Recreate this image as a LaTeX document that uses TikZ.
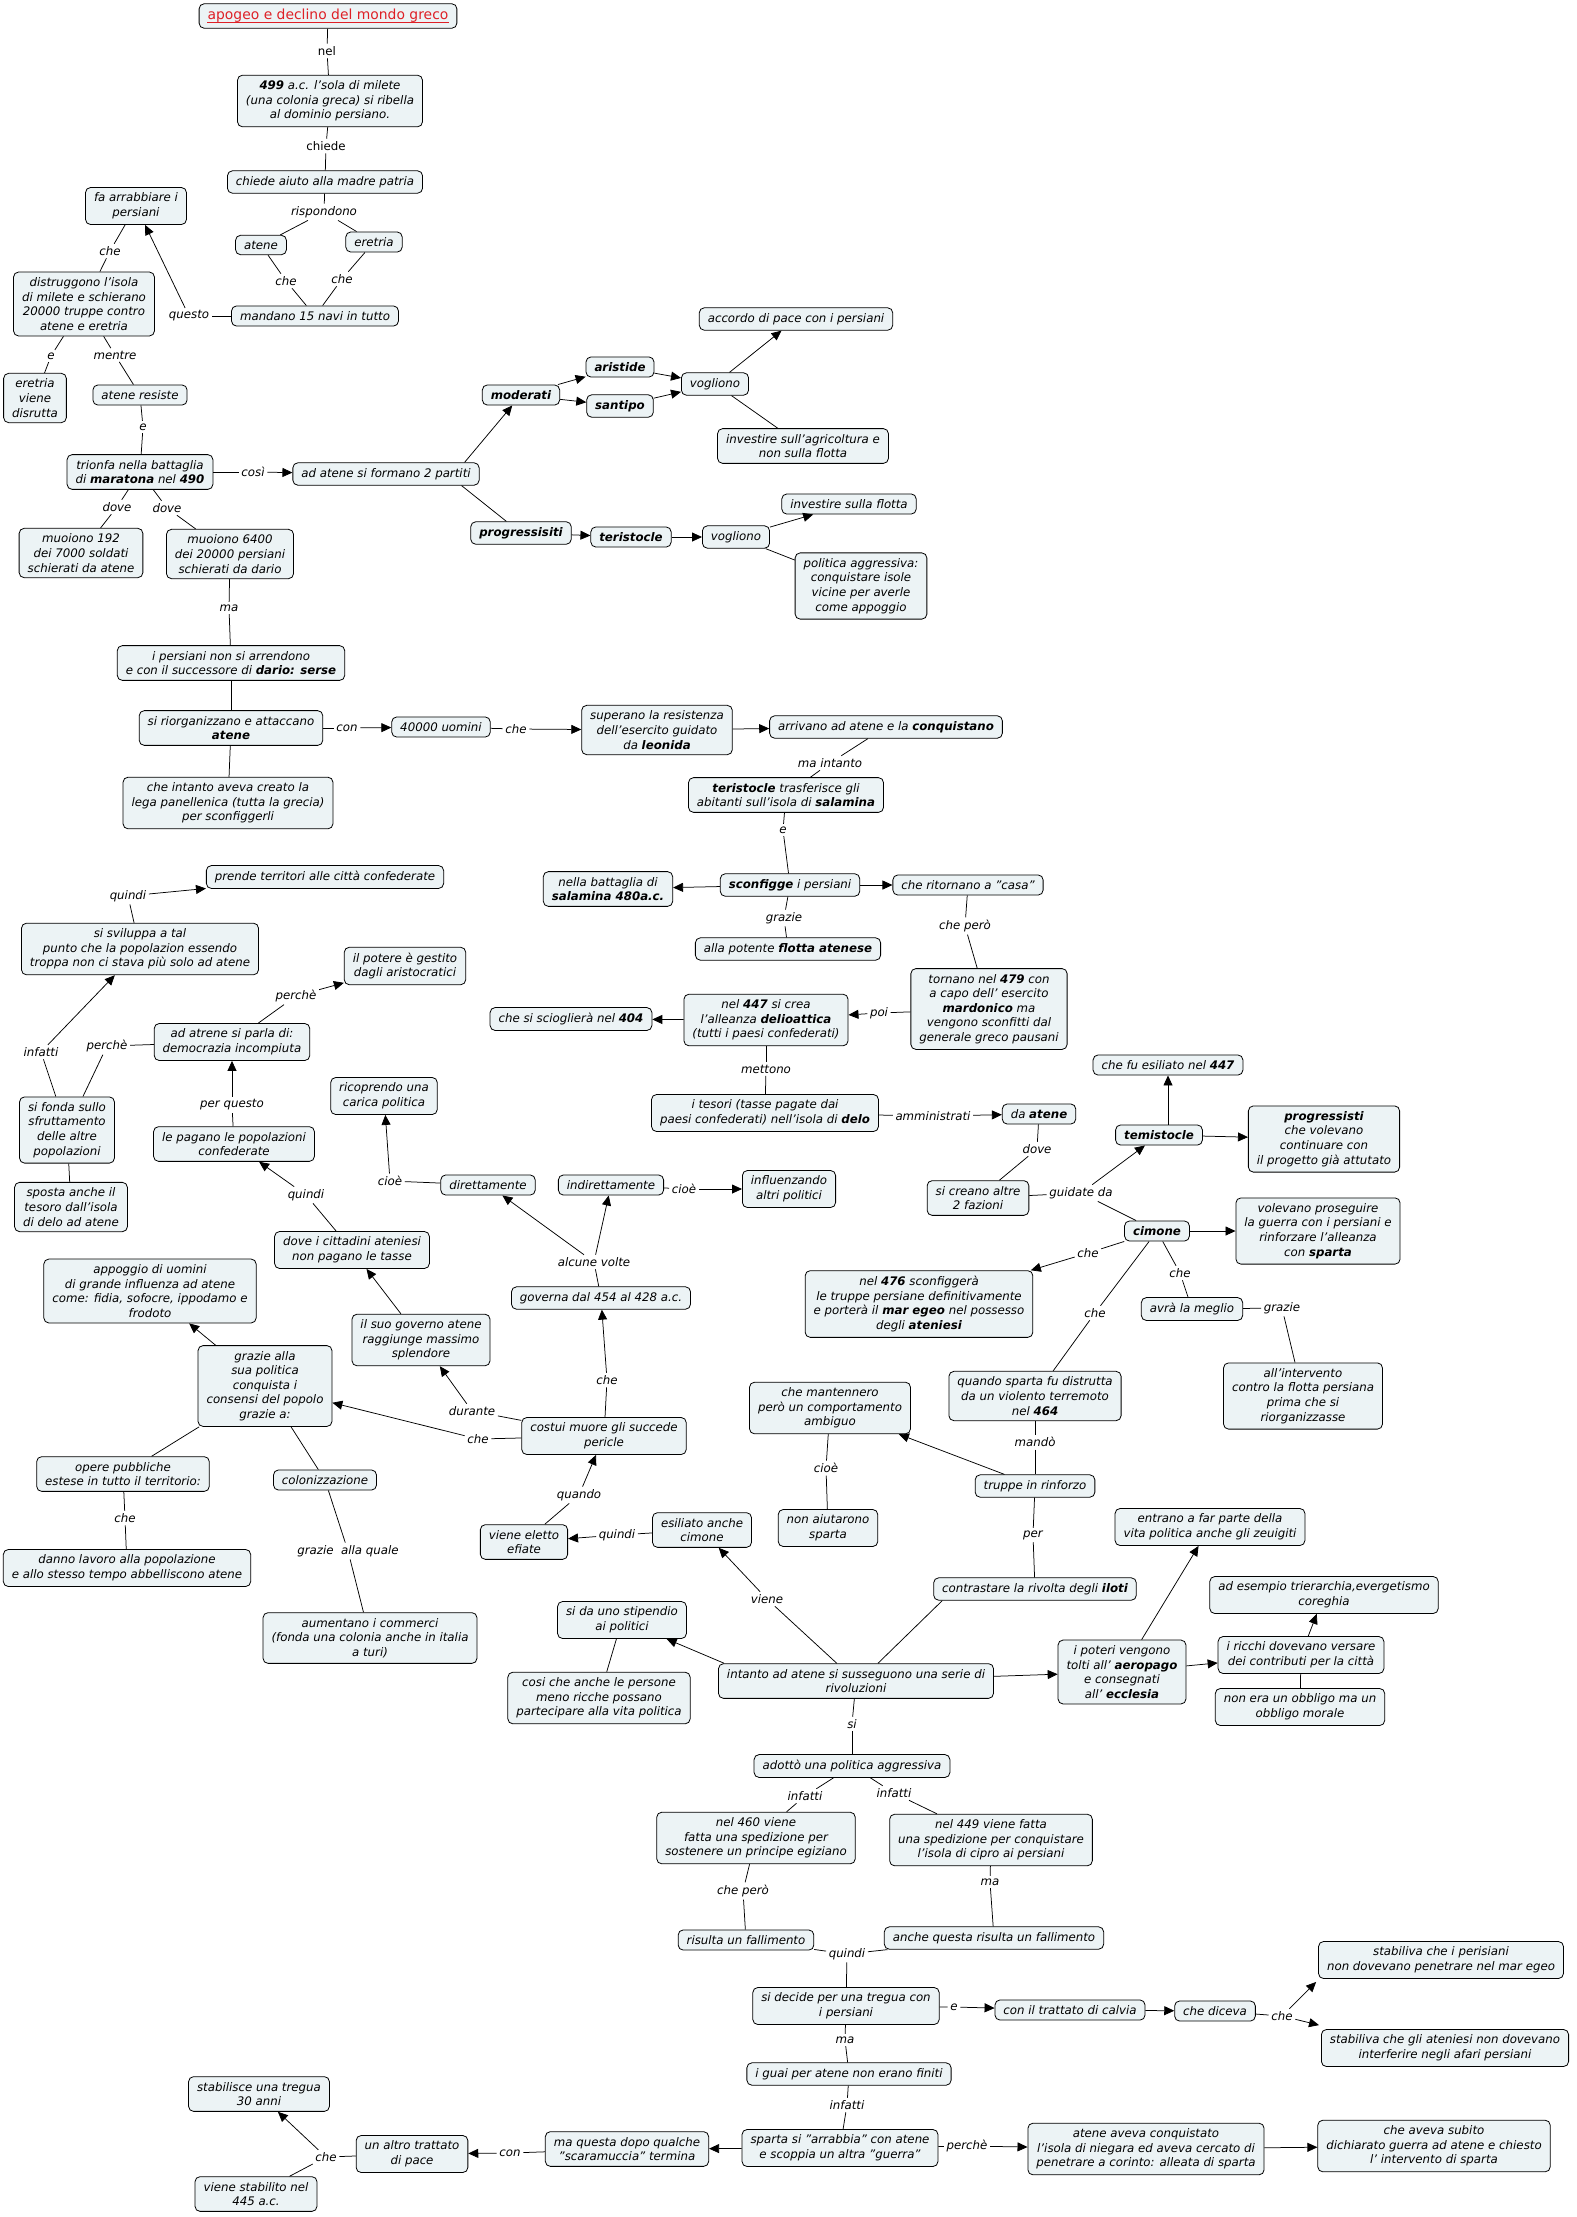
\documentclass[tikz,border=0pt]{standalone}
\usepackage{fontspec}
\setmainfont{DejaVu Sans}
\usepackage{xcolor}
\usetikzlibrary{arrows.meta}
\definecolor{cmapfill}{RGB}{236,243,245}
\definecolor{cmapred}{RGB}{222,32,38}

\begin{document}
\begin{tikzpicture}[x=1pt, y=-1pt,
  font=\fontsize{11.8}{14.6}\selectfont\itshape,
  cpt/.style={draw=black, fill=cmapfill, rounded corners=5pt, align=center, line width=0.8pt, inner xsep=8.5pt, inner ysep=5.5pt},
  ttl/.style={cpt, font=\fontsize{13.9}{16}\selectfont, text=cmapred},
  lab/.style={inner sep=2.5pt, align=center},
  ln/.style={line width=0.75pt},
  arr/.style={ln, -{Triangle[length=10pt, width=9pt]}}]
\useasboundingbox (0,0) rectangle (1577,2217);

% ---- milete and maratona
\node[ttl] (title) at (328,16) {apogeo e declino del mondo greco};
\draw[cmapred, line width=0.9pt] ([xshift=8.5pt,yshift=-2.2pt]title.base west) -- ([xshift=-8.5pt,yshift=-2.2pt]title.base east);
\node[lab] (lnel) at (327,51) {\upshape nel};
\node[cpt] (y499) at (330,101) {\textbf{499} a.c. l'sola di milete\\(una colonia greca) si ribella\\al dominio persiano.};
\node[lab] (lchiede) at (326,146) {\upshape chiede};
\node[cpt] (aiuto) at (325,182) {chiede aiuto alla madre patria};
\node[lab] (lrisp) at (324,212) {rispondono};
\node[cpt] (atene1) at (261,245) {atene};
\node[cpt] (eretria1) at (374,242) {eretria};
\node[lab] (lche1) at (286,281) {che};
\node[lab] (lche2) at (342,279) {che};
\node[cpt] (navi) at (315,316) {mandano 15 navi in tutto};
\node[lab] (lquesto) at (189,316) {questo};
\node[cpt] (arrab) at (136,206) {fa arrabbiare i\\persiani};
\node[lab] (lche3) at (110,251) {che};
\node[cpt] (distr) at (84,304) {distruggono l'isola\\di milete e schierano\\20000 truppe contro\\atene e eretria};
\node[lab] (le1) at (51,356) {e};
\node[lab] (lmentre) at (115,355) {mentre};
\node[cpt] (eretr2) at (35,398) {eretria\\viene\\disrutta};
\node[cpt] (resiste) at (140,395) {atene resiste};
\node[lab] (le2) at (143,427) {e};
\node[cpt] (maratona) at (140,472) {trionfa nella battaglia\\di \textbf{maratona} nel \textbf{490}};
\node[lab] (lcosi) at (253,472) {così};
\node[cpt] (partiti) at (386,474) {ad atene si formano 2 partiti};
\node[lab] (ldove1) at (117,507) {dove};
\node[lab] (ldove2) at (167,508) {dove};
\node[cpt] (morti1) at (81,553) {muoiono 192\\dei 7000 soldati\\schierati da atene};
\node[cpt] (morti2) at (230,554) {muoiono 6400\\dei 20000 persiani\\schierati da dario};

% ---- i due partiti
\node[cpt] (moderati) at (521,395) {\textbf{moderati}};
\node[cpt] (progr1) at (521,533) {\textbf{progressisiti}};
\node[cpt] (aristide) at (620,367) {\textbf{aristide}};
\node[cpt] (santipo) at (620,406) {\textbf{santipo}};
\node[cpt] (vogl1) at (715,384) {vogliono};
\node[cpt] (pace) at (796,319) {accordo di pace con i persiani};
\node[cpt] (agric) at (803,446) {investire sull'agricoltura e\\non sulla flotta};
\node[cpt] (terist1) at (631,537) {\textbf{teristocle}};
\node[cpt] (vogl2) at (736,537) {vogliono};
\node[cpt] (flotta1) at (849,504) {investire sulla flotta};
\node[cpt] (polaggr) at (861,586) {politica aggressiva:\\conquistare isole\\vicine per averle\\come appoggio};

% ---- serse e salamina
\node[lab] (lma1) at (229,608) {ma};
\node[cpt] (arrend) at (231,663) {i persiani non si arrendono\\e con il successore di \textbf{dario: serse}};
\node[cpt] (riorg) at (231,728) {si riorganizzano e attaccano\\\textbf{atene}};
\node[cpt] (lega) at (228,803) {che intanto aveva creato la\\lega panellenica (tutta la grecia)\\per sconfiggerli};
\node[lab] (lcon1) at (347,728) {con};
\node[cpt] (uomini) at (441,727) {40000 uomini};
\node[lab] (lche4) at (516,729) {che};
\node[cpt] (leonida) at (657,730) {superano la resistenza\\dell'esercito guidato\\da \textbf{leonida}};
\node[cpt] (conquista) at (886,727) {arrivano ad atene e la \textbf{conquistano}};
\node[lab] (lmaint) at (830,763) {ma intanto};
\node[cpt] (salamina) at (786,795) {\textbf{teristocle} trasferisce gli\\abitanti sull'isola di \textbf{salamina}};
\node[lab] (le3) at (783,830) {e};
\node[cpt] (sconfigge) at (790,885) {\textbf{sconfigge} i persiani};
\node[cpt] (battaglia) at (608,889) {nella battaglia di\\\textbf{salamina 480a.c.}};
\node[cpt] (casa) at (968,885) {che ritornano a "casa"};
\node[lab] (lgrazie1) at (784,918) {grazie};
\node[cpt] (flotta2) at (788,949) {alla potente \textbf{flotta atenese}};
\node[lab] (lchepero1) at (965,926) {che però};
\node[cpt] (mardonio) at (989,1009) {tornano nel \textbf{479} con\\a capo dell' esercito\\\textbf{mardonico} ma\\vengono sconfitti dal\\generale greco pausani};
\node[lab] (lpoi) at (879,1013) {poi};
\node[cpt] (delio) at (766,1020) {nel \textbf{447} si crea\\l'alleanza \textbf{delioattica}\\(tutti i paesi confederati)};
\node[cpt] (scioglie) at (571,1019) {che si scioglierà nel \textbf{404}};
\node[lab] (lmettono) at (766,1069) {mettono};
\node[cpt] (tesori) at (765,1113) {i tesori (tasse pagate dai\\paesi confederati) nell'isola di \textbf{delo}};
\node[lab] (lammin) at (933,1116) {amministrati};
\node[cpt] (daatene) at (1039,1114) {da \textbf{atene}};

% ---- temistocle e cimone
\node[lab] (ldove3) at (1037,1149) {dove};
\node[cpt] (fazioni) at (978,1198) {si creano altre\\2 fazioni};
\node[lab] (lguid) at (1081,1193) {guidate da};
\node[cpt] (temist) at (1159,1135) {\textbf{temistocle}};
\node[cpt] (progr2) at (1324,1139) {\textbf{progressisti}\\che volevano\\continuare con\\il progetto già attutato};
\node[cpt] (esiliato) at (1168,1065) {che fu esiliato nel \textbf{447}};
\node[cpt] (cimone) at (1157,1231) {\textbf{cimone}};
\node[cpt] (proseg) at (1318,1231) {volevano proseguire\\la guerra con i persiani e\\rinforzare l'alleanza\\con \textbf{sparta}};
\node[lab] (lche5) at (1088,1253) {che};
\node[cpt] (sc476) at (919,1304) {nel \textbf{476} sconfiggerà\\le truppe persiane definitivamente\\e porterà il \textbf{mar egeo} nel possesso\\degli \textbf{ateniesi}};
\node[lab] (lche6) at (1095,1313) {che};
\node[lab] (lche7) at (1180,1273) {che};
\node[cpt] (meglio) at (1192,1309) {avrà la meglio};
\node[lab] (lgrazie2) at (1282,1308) {grazie};
\node[cpt] (intervento) at (1303,1396) {all'intervento\\contro la flotta persiana\\prima che si\\riorganizzasse};
\node[cpt] (terremoto) at (1035,1396) {quando sparta fu distrutta\\da un violento terremoto\\nel \textbf{464}};
\node[lab] (lmando) at (1035,1442) {mandò};
\node[cpt] (rinforzo) at (1035,1486) {truppe in rinforzo};
\node[cpt] (ambiguo) at (830,1408) {che mantennero\\però un comportamento\\ambiguo};
\node[lab] (lcioe1) at (826,1468) {cioè};
\node[cpt] (aiutarono) at (828,1528) {non aiutarono\\sparta};
\node[lab] (lper) at (1033,1535) {per};
\node[cpt] (iloti) at (1035,1589) {contrastare la rivolta degli \textbf{iloti}};

% ---- pericle
\node[cpt] (indir) at (611,1185) {indirettamente};
\node[lab] (lcioe2) at (684,1189) {cioè};
\node[cpt] (influenz) at (789,1189) {influenzando\\altri politici};
\node[lab] (lalcune) at (594,1262) {alcune volte};
\node[cpt] (governa) at (601,1298) {governa dal 454 al 428 a.c.};
\node[lab] (lche8) at (607,1380) {che};
\node[cpt] (pericle) at (604,1436) {costui muore gli succede\\pericle};
\node[lab] (lquando) at (579,1495) {quando};
\node[cpt] (efiate) at (524,1542) {viene eletto\\efiate};
\node[lab] (lquindi1) at (617,1535) {quindi};
\node[cpt] (esilcim) at (702,1530) {esiliato anche\\cimone};
\node[lab] (lviene) at (767,1599) {viene};
\node[cpt] (carica) at (384,1096) {ricoprendo una\\carica politica};
\node[lab] (lcioe3) at (390,1181) {cioè};
\node[cpt] (dir) at (488,1185) {direttamente};
\node[lab] (ldurante) at (472,1411) {durante};
\node[lab] (lche12) at (478,1439) {che};
\node[cpt] (splendore) at (421,1340) {il suo governo atene\\raggiunge massimo\\splendore};
\node[cpt] (tasse) at (352,1250) {dove i cittadini ateniesi\\non pagano le tasse};
\node[lab] (lquindi3) at (306,1195) {quindi};
\node[cpt] (pagano) at (234,1144) {le pagano le popolazioni\\confederate};
\node[lab] (lperq) at (232,1105) {per questo};
\node[cpt] (democr) at (232,1042) {ad atrene si parla di:\\democrazia incompiuta};
\node[lab] (lperche2) at (296,996) {perchè};
\node[cpt] (potere) at (405,966) {il potere è gestito\\dagli aristocratici};
\node[lab] (lperche3) at (107,1046) {perchè};
\node[lab] (linf4) at (41,1052) {infatti};
\node[cpt] (fonda) at (67,1130) {si fonda sullo\\sfruttamento\\delle altre\\popolazioni};
\node[cpt] (tesoro) at (71,1207) {sposta anche il\\tesoro dall'isola\\di delo ad atene};
\node[cpt] (sviluppa) at (140,949) {si sviluppa a tal\\punto che la popolazion essendo\\troppa non ci stava più solo ad atene};
\node[lab] (lquindi4) at (128,896) {quindi};
\node[cpt] (territori) at (325,877) {prende territori alle città confederate};
\node[cpt] (consensi) at (265,1386) {grazie alla\\sua politica\\conquista i\\consensi del popolo\\grazie a:};
\node[cpt] (appoggio) at (150,1291) {appoggio di uomini\\di grande influenza ad atene\\come: fidia, sofocre, ippodamo e\\frodoto};
\node[cpt] (opere) at (123,1474) {opere pubbliche\\estese in tutto il territorio:};
\node[lab] (lche13) at (125,1518) {che};
\node[cpt] (lavoro) at (127,1568) {danno lavoro alla popolazione\\e allo stesso tempo abbelliscono atene};
\node[cpt] (colon) at (325,1480) {colonizzazione};
\node[lab] (lgrazieq) at (348,1551) {grazie\ \ alla quale};
\node[cpt] (commerci) at (370,1638) {aumentano i commerci\\(fonda una colonia anche in italia\\a turi)};

% ---- rivoluzioni
\node[cpt] (stipendio) at (622,1620) {si da uno stipendio\\ai politici};
\node[cpt] (persone) at (599,1698) {cosi che anche le persone\\meno ricche possano\\partecipare alla vita politica};
\node[cpt] (intanto) at (856,1681) {intanto ad atene si susseguono una serie di\\rivoluzioni};
\node[cpt] (poteri) at (1122,1672) {i poteri vengono\\tolti all' \textbf{aeropago}\\e consegnati\\all' \textbf{ecclesia}};
\node[cpt] (zeugiti) at (1210,1527) {entrano a far parte della\\vita politica anche gli zeuigiti};
\node[cpt] (ricchi) at (1301,1655) {i ricchi dovevano versare\\dei contributi per la città};
\node[cpt] (esempio) at (1324,1595) {ad esempio trierarchia,evergetismo\\coreghia};
\node[cpt] (morale) at (1300,1707) {non era un obbligo ma un\\obbligo morale};

% ---- politica aggressiva e tregue
\node[lab] (lsi) at (852,1724) {si};
\node[cpt] (aggress) at (852,1766) {adottò una politica aggressiva};
\node[lab] (linf1) at (805,1796) {infatti};
\node[lab] (linf2) at (894,1793) {infatti};
\node[cpt] (sp460) at (756,1838) {nel 460 viene\\fatta una spedizione per\\sostenere un principe egiziano};
\node[cpt] (sp449) at (991,1840) {nel 449 viene fatta\\una spedizione per conquistare\\l'isola di cipro ai persiani};
\node[lab] (lchepero2) at (743,1891) {che però};
\node[lab] (lma2) at (990,1882) {ma};
\node[cpt] (fall1) at (746,1940) {risulta un fallimento};
\node[cpt] (fall2) at (994,1938) {anche questa risulta un fallimento};
\node[lab] (lquindi2) at (847,1954) {quindi};
\node[cpt] (tregua) at (846,2006) {si decide per una tregua con\\i persiani};
\node[lab] (le4) at (954,2007) {e};
\node[cpt] (calvia) at (1070,2010) {con il trattato di calvia};
\node[cpt] (diceva) at (1215,2011) {che diceva};
\node[lab] (lche9) at (1282,2016) {che};
\node[cpt] (egeo) at (1441,1960) {stabiliva che i perisiani\\non dovevano penetrare nel mar egeo};
\node[cpt] (afari) at (1445,2048) {stabiliva che gli ateniesi non dovevano\\interferire negli afari persiani};
\node[lab] (lma3) at (845,2040) {ma};
\node[cpt] (guai) at (849,2074) {i guai per atene non erano finiti};
\node[lab] (linf3) at (847,2105) {infatti};
\node[cpt] (guerra) at (840,2148) {sparta si "arrabbia" con atene\\e scoppia un altra "guerra"};
\node[lab] (lperche1) at (967,2146) {perchè};
\node[cpt] (niegara) at (1146,2149) {atene aveva conquistato\\l'isola di niegara ed aveva cercato di\\penetrare a corinto: alleata di sparta};
\node[cpt] (subito) at (1434,2146) {che aveva subito\\dichiarato guerra ad atene e chiesto\\l' intervento di sparta};
\node[cpt] (scaram) at (627,2149) {ma questa dopo qualche\\"scaramuccia" termina};
\node[lab] (lcon2) at (510,2153) {con};
\node[cpt] (trattato) at (412,2154) {un altro trattato\\di pace};
\node[lab] (lche10) at (326,2157) {che};
\node[cpt] (tregua30) at (259,2094) {stabilisce una tregua\\30 anni};
\node[cpt] (st445) at (256,2194) {viene stabilito nel\\445 a.c.};

% ---- connectors without head
\foreach \a/\b in {title/lnel, lnel/y499, y499/lchiede, lchiede/aiuto, aiuto/lrisp,
  lrisp/atene1, lrisp/eretria1, atene1/lche1, lche1/navi, eretria1/lche2, lche2/navi,
  navi/lquesto, arrab/lche3, lche3/distr, distr/le1, le1/eretr2, distr/lmentre,
  lmentre/resiste, resiste/le2, le2/maratona, maratona/lcosi, maratona/ldove1,
  ldove1/morti1, maratona/ldove2, ldove2/morti2, vogl1/agric, vogl2/polaggr,
  morti2/lma1, lma1/arrend, arrend/riorg, riorg/lega, riorg/lcon1, uomini/lche4,
  conquista/lmaint, lmaint/salamina, salamina/le3, le3/sconfigge, sconfigge/lgrazie1,
  lgrazie1/flotta2, casa/lchepero1, lchepero1/mardonio, mardonio/lpoi, delio/lmettono,
  lmettono/tesori, tesori/lammin, daatene/ldove3, ldove3/fazioni, fazioni/lguid,
  lguid/cimone, cimone/lche5, cimone/lche6, lche6/terremoto, cimone/lche7, lche7/meglio,
  meglio/lgrazie2, lgrazie2/intervento, terremoto/lmando, lmando/rinforzo,
  ambiguo/lcioe1, lcioe1/aiutarono, rinforzo/lper, lper/iloti, intanto/lviene,
  esilcim/lquindi1, efiate/lquando, pericle/lche8, governa/lalcune, indir/lcioe2,
  dir/lcioe3, pericle/ldurante, pericle/lche12, tasse/lquindi3, pagano/lperq,
  democr/lperche2, democr/lperche3, lperche3/fonda, fonda/linf4, fonda/tesoro,
  sviluppa/lquindi4, consensi/opere, opere/lche13, lche13/lavoro, consensi/colon,
  colon/lgrazieq, lgrazieq/commerci, stipendio/persone, ricchi/morale, intanto/lsi,
  lsi/aggress, aggress/linf1, linf1/sp460, aggress/linf2, linf2/sp449,
  sp460/lchepero2, lchepero2/fall1, sp449/lma2, lma2/fall2, fall1/lquindi2,
  fall2/lquindi2, lquindi2/tregua, tregua/le4, diceva/lche9, tregua/lma3, lma3/guai,
  guai/linf3, linf3/guerra, guerra/lperche1, scaram/lcon2, trattato/lche10, lche10/st445}
  \draw[ln] (\a) -- (\b);

% ---- connectors with head
\foreach \a/\b in {lquesto/arrab, lcosi/partiti, moderati/aristide, moderati/santipo,
  aristide/vogl1, santipo/vogl1, vogl1/pace, progr1/terist1, terist1/vogl2,
  vogl2/flotta1, lcon1/uomini, lche4/leonida, leonida/conquista, sconfigge/battaglia,
  sconfigge/casa, lpoi/delio, delio/scioglie, lammin/daatene, lguid/temist,
  temist/progr2, cimone/proseg, lche5/sc476, rinforzo/ambiguo, lviene/esilcim,
  lquindi1/efiate, lquando/pericle, lche8/governa, lalcune/indir, lalcune/dir,
  lcioe2/influenz, lcioe3/carica, ldurante/splendore, lche12/consensi,
  splendore/tasse, lquindi3/pagano, lperq/democr, lperche2/potere, linf4/sviluppa,
  lquindi4/territori, consensi/appoggio, intanto/poteri, poteri/zeugiti,
  poteri/ricchi, ricchi/esempio, le4/calvia, calvia/diceva, lperche1/niegara,
  niegara/subito, guerra/scaram, lcon2/trattato, lche10/tregua30}
  \draw[arr] (\a) -- (\b);

\draw[arr] ([xshift=-15pt]partiti.north east) -- (moderati);
\draw[ln] ([xshift=-18pt]partiti.south east) -- (progr1);
\draw[arr] (temist.north-|esiliato.south) -- (esiliato.south);
\draw[ln] ([xshift=9pt]iloti.south west) -- ([xshift=22pt]intanto.north);
\draw[arr] ([xshift=6pt]intanto.north west) -- (stipendio);
\draw[arr] (lche9) -- ([xshift=-2pt,yshift=-3pt]egeo.south west);
\draw[arr] (lche9) -- ([xshift=-2pt,yshift=4pt]afari.north west);
\end{tikzpicture}
\end{document}
